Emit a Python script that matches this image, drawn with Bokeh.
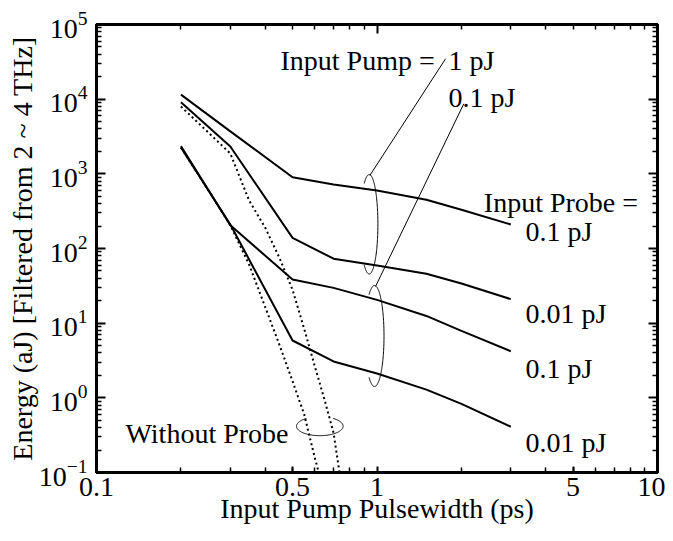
import numpy as np
from bokeh.plotting import figure
from bokeh.models import FixedTicker, LogAxis
from bokeh.embed import file_html
from bokeh.resources import INLINE
from bokeh.core.properties import value

# ---------------- data ----------------
pulse_width = [0.2, 0.3, 0.5, 0.7, 1.0, 1.5, 2.0, 3.0]
pump1_probe01 = [11500, 3700, 900, 720, 600, 450, 330, 210]
pump1_probe001 = [9100, 2320, 139, 73, 59, 46, 34, 21]
pump01_probe01 = [2350, 205, 38.4, 29.7, 20.5, 12.5, 7.9, 4.2]
pump01_probe001 = [2250, 210, 5.86, 3.07, 2.12, 1.29, 0.83, 0.41]

noprobe_pw_pump1 = [0.2, 0.25, 0.3, 0.35, 0.4, 0.45, 0.5, 0.55, 0.6, 0.65, 0.7, 0.735]
noprobe_pump1 = [7980, 3600, 1870, 440, 188, 73.5, 28, 8.4, 2.66, 0.944, 0.339, 0.1]
noprobe_pw_pump01 = [0.2, 0.25, 0.3, 0.35, 0.4, 0.45, 0.5, 0.55, 0.6, 0.62]
noprobe_pump01 = [2250, 610, 205, 61, 16.2, 5.0, 1.67, 0.6, 0.158, 0.1]

x_tick_values = [0.1, 0.5, 1, 5, 10]
x_tick_labels = ["0.1", "0.5", "1", "5", "10"]
y_tick_values = [1e-1, 1e0, 1e1, 1e2, 1e3, 1e4, 1e5]

ann_text = ["Input Pump =", "1 pJ", "0.1 pJ", "Input Probe =",
            "0.1 pJ", "0.01 pJ", "0.1 pJ", "0.01 pJ", "Without Probe"]
ann_x = [0.4529, 1.798, 1.80, 2.403, 3.383, 3.383, 3.383, 3.383, 0.1269]
ann_y = [33400, 33400, 10500, 417, 170.7, 13.6, 2.45, 0.2547, 0.33]

FONT = "Liberation Serif"

# ---------------- figure ----------------
p = figure(x_axis_type="log", y_axis_type="log",
           x_range=(0.1, 10), y_range=(0.1, 1e5),
           width=665, height=533,
           min_border_left=96, min_border_top=24,
           min_border_right=8, min_border_bottom=61,
           output_backend="svg", toolbar_location=None)
p.grid.visible = False
p.outline_line_color = "black"
p.outline_line_width = 3
p.background_fill_color = "white"
p.border_fill_color = "white"

x_minor = [m * 10.0 ** e for e in (-1, 0) for m in range(2, 10)]
y_minor = [m * 10.0 ** e for e in range(-1, 5) for m in range(2, 10)]


def style_axis(ax, major_in, minor_in):
    ax.axis_line_width = 3
    ax.axis_line_color = "black"
    ax.major_tick_in = major_in
    ax.major_tick_out = 0
    ax.minor_tick_in = minor_in
    ax.minor_tick_out = 0
    ax.major_tick_line_width = 2
    ax.minor_tick_line_width = 1.5
    ax.major_label_text_font = FONT
    ax.major_label_text_font_size = "28px"
    ax.major_label_text_color = "black"
    ax.axis_label_text_font = FONT
    ax.axis_label_text_font_style = "normal"
    ax.axis_label_text_font_size = "28px"
    ax.axis_label_text_color = "black"


# bottom axis
xa = p.xaxis[0]
xa.ticker = FixedTicker(ticks=x_tick_values, minor_ticks=x_minor)
xa.major_label_overrides = dict(zip(x_tick_values, x_tick_labels))
style_axis(xa, 6, 5)
xa.major_label_standoff = 5
xa.axis_label = "Input Pump Pulsewidth (ps)"
xa.axis_label_standoff = -6

# left axis
ya = p.yaxis[0]
ya.ticker = FixedTicker(ticks=y_tick_values, minor_ticks=y_minor)
style_axis(ya, 9, 5)
ya.major_label_standoff = 9
ya.axis_label = "Energy (aJ) [Filtered from 2 ~ 4 THz]"
ya.axis_label_standoff = -2

# top axis (ticks only)
top = LogAxis(ticker=FixedTicker(ticks=[0.1, 1, 10], minor_ticks=x_minor))
style_axis(top, 9, 5)
top.major_label_text_font_size = "1px"
top.major_label_text_color = None
top.major_label_standoff = 0
p.add_layout(top, "above")

# right axis (ticks only)
right = LogAxis(ticker=FixedTicker(ticks=y_tick_values, minor_ticks=y_minor))
style_axis(right, 9, 5)
right.major_label_text_font_size = "1px"
right.major_label_text_color = None
right.major_label_standoff = 0
p.add_layout(right, "right")

# ---------------- curves ----------------
for series in (pump1_probe01, pump1_probe001, pump01_probe01, pump01_probe001):
    p.line(pulse_width, series, line_color="black", line_width=2)

p.line(noprobe_pw_pump1, noprobe_pump1, line_color="black", line_width=2, line_dash="2 3")
p.line(noprobe_pw_pump01, noprobe_pump01, line_color="black", line_width=2, line_dash="2 3")

# ---------------- annotations ----------------
def ellipse_arc(cx_log, cy_log, a, b, t0, t1):
    t = np.radians(np.linspace(t0, t1, 160))
    return 10 ** (cx_log + a * np.cos(t)), 10 ** (cy_log + b * np.sin(t))


for (cx, cy, a, b, t0, t1) in [(-0.0278, 2.325, 0.031, 0.666, -125, 125),
                               (-0.0089, 0.828, 0.0339, 0.676, -125, 125),
                               (-0.2039, -0.380, 0.0831, 0.127, 125, 415)]:
    ex, ey = ellipse_arc(cx, cy, a, b, t0, t1)
    p.line(ex, ey, line_color="black", line_width=1)

# leader lines
p.line([1.755, 0.9426], [34700, 949], line_color="black", line_width=1)
p.line([2.039, 0.988], [8670, 31.0], line_color="black", line_width=1)

p.text(x=ann_x, y=ann_y, text=ann_text, text_font=value(FONT),
       text_font_size="28px", text_align="left", text_baseline="alphabetic",
       text_color="black")

open("out.html", "w").write(file_html(p, INLINE))
